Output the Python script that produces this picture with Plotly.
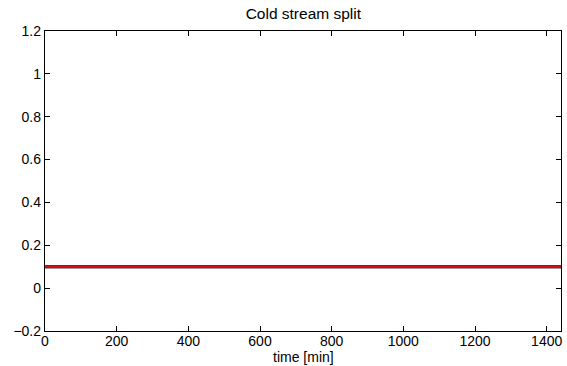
import plotly.graph_objects as go

time_min = [0, 240, 480, 720, 960, 1200, 1440]
split_a = [0.1, 0.1, 0.1, 0.1, 0.1, 0.1, 0.1]
split_b = [0.1, 0.1, 0.1, 0.1, 0.1, 0.1, 0.1]
x_ticks = [0, 200, 400, 600, 800, 1000, 1200, 1400]
y_ticks = [-0.2, 0, 0.2, 0.4, 0.6, 0.8, 1, 1.2]
y_tick_text = ["\u22120.2", "0", "0.2", "0.4", "0.6", "0.8", "1", "1.2"]

fig = go.Figure()
fig.add_trace(go.Scatter(x=time_min, y=split_a, mode="lines",
                         line=dict(color="#5a2a3a", width=3.5), showlegend=False))
fig.add_trace(go.Scatter(x=time_min, y=split_b, mode="lines",
                         line=dict(color="#d01010", width=2), showlegend=False))

axis_common = dict(showgrid=False, zeroline=False, showline=True, linecolor="black",
                   linewidth=1.3, mirror="ticks", ticks="inside", ticklen=5,
                   tickcolor="black", tickfont=dict(size=14, color="black"))

fig.update_layout(
    width=567, height=366,
    margin=dict(l=45, r=6, t=31, b=35, autoexpand=False),
    paper_bgcolor="white", plot_bgcolor="white",
    font=dict(family="Liberation Sans, Arial, sans-serif", color="black"),
    title=dict(text="Cold stream split", x=0.535, xanchor="center", y=0.962, yanchor="middle",
               font=dict(size=15.5)),
    xaxis=dict(range=[0, 1440], tickvals=x_ticks, ticklabelstandoff=-3, **axis_common),
    yaxis=dict(range=[-0.2, 1.2], tickvals=y_ticks, ticktext=y_tick_text, **axis_common),
    annotations=[dict(text="time [min]", xref="paper", yref="paper", x=0.5, y=-0.1167,
                      xanchor="center", yanchor="bottom", showarrow=False,
                      font=dict(size=14), borderpad=0)],
)

fig.write_html("out.html", config={"displayModeBar": False},
               post_script="document.body.style.margin='0';document.body.style.overflow='hidden';")
